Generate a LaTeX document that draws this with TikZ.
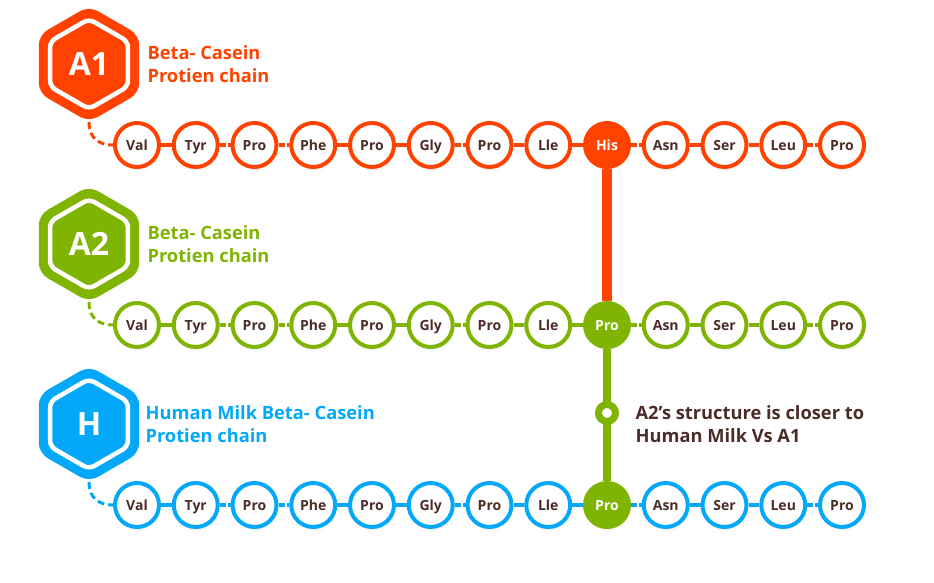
\documentclass[tikz,border=0pt]{standalone}
\usepackage{fontspec}
\setmainfont{Open Sans}
\usetikzlibrary{shapes.geometric,shadows}
\definecolor{aonered}{HTML}{FF4200}
\definecolor{atwogreen}{HTML}{7FB402}
\definecolor{humanblue}{HTML}{03A9F8}
\definecolor{darkbrown}{HTML}{4B2C26}

\begin{document}
\begin{tikzpicture}[x=1pt, y=-1pt,
  acid/.style={circle, draw=#1, line width=4pt, fill=white, minimum size=44pt, inner sep=0pt,
    text height=10pt, text depth=0pt,
    font=\bfseries\fontsize{14}{14}\selectfont, text=darkbrown,
    drop shadow={shadow xshift=1pt, shadow yshift=-4pt, opacity=0.07}},
  hit/.style={acid=#1, fill=#1, text=white},
  link/.style={draw=#1, line width=4pt},
  gaplink/.style={link=#1, dash pattern=on 6pt off 2pt on 20pt},
  hexout/.style={regular polygon, regular polygon sides=6, shape border rotate=30, fill=#1,
    minimum size=116pt, inner sep=0pt, outer sep=0pt, rounded corners=10pt},
  hexin/.style={regular polygon, regular polygon sides=6, shape border rotate=30, fill=#1,
    draw=white, line width=4.5pt, minimum size=90pt, inner sep=0pt, rounded corners=6pt,
    text=white, text height=22.5pt, text depth=0pt, font=\bfseries\fontsize{32}{32}\selectfont},
  title/.style={anchor=west, align=left, text=#1, font=\bfseries\fontsize{18.3}{23}\selectfont}]

  \useasboundingbox (0,0) rectangle (934,582);

  % A1 chain
  \node[hexout=aonered] (hone) at (89,64) {};
  \node[hexin=aonered] (honein) at (89,64) {A1};
  \node[title=aonered] (tone) at (144,64) {Beta- Casein\\Protien chain};
  \foreach \n [count=\i] in {Val,Tyr,Pro,Phe,Pro,Gly,Pro,Lle,His,Asn,Ser,Leu,Pro} {
    \ifnum\i=9\relax\else
      \node[acid=aonered] (aone-\i) at ({137+58.75*(\i-1)},145) {\n};
    \fi
  }
  \node[hit=aonered] (aone-9) at ({137+58.75*8},145) {His};

  % A2 chain
  \node[hexout=atwogreen] (htwo) at (89,244) {};
  \node[hexin=atwogreen] (htwoin) at (89,244) {A2};
  \node[title=atwogreen] (ttwo) at (144,244) {Beta- Casein\\Protien chain};
  \foreach \n [count=\i] in {Val,Tyr,Pro,Phe,Pro,Gly,Pro,Lle,Pro,Asn,Ser,Leu,Pro} {
    \ifnum\i=9\relax\else
      \node[acid=atwogreen] (atwo-\i) at ({137+58.75*(\i-1)},325) {\n};
    \fi
  }
  \node[hit=atwogreen] (atwo-9) at ({137+58.75*8},325) {Pro};

  % Human milk chain
  \node[hexout=humanblue] (hhmn) at (89,424) {};
  \node[hexin=humanblue] (hhmnin) at (89,424) {H};
  \node[title=humanblue] (thmn) at (142,424) {Human Milk Beta- Casein\\Protien chain};
  \foreach \n [count=\i] in {Val,Tyr,Pro,Phe,Pro,Gly,Pro,Lle,Pro,Asn,Ser,Leu,Pro} {
    \ifnum\i=9\relax\else
      \node[acid=humanblue] (hmn-\i) at ({137+58.75*(\i-1)},505) {\n};
    \fi
  }
  \node[hit=atwogreen] (hmn-9) at ({137+58.75*8},505) {Pro};

  % links along the chains
  \foreach \row/\col in {aone/aonered, atwo/atwogreen, hmn/humanblue} {
    \foreach \i [evaluate=\i as \j using int(\i+1)] in {1,4,5,7,8,10,11}
      \draw[link=\col] (\row-\i) -- (\row-\j);
    \foreach \i [evaluate=\i as \j using int(\i+1)] in {2,3,6,9,12}
      \draw[gaplink=\col] (\row-\i) -- (\row-\j);
  }
  \draw[link=aonered, dash pattern=on 7pt off 4pt, line width=3pt] (hone.south) .. controls +(0,18) and +(-12,0) .. (aone-1.west);
  \draw[link=atwogreen, dash pattern=on 7pt off 4pt, line width=3pt] (htwo.south) .. controls +(0,18) and +(-12,0) .. (atwo-1.west);
  \draw[link=humanblue, dash pattern=on 7pt off 4pt, line width=3pt] (hhmn.south) .. controls +(0,18) and +(-12,0) .. (hmn-1.west);

  % the swap
  \draw[aonered, line width=10pt] (aone-9) -- (atwo-9);
  \draw[atwogreen, line width=8pt] (atwo-9) -- (hmn-9);
  \node[circle, draw=atwogreen, fill=white, line width=7pt, minimum size=17pt, inner sep=0pt] (ring) at ({137+58.75*8},413) {};
  \node[anchor=west, align=left, text=darkbrown, font=\bfseries\fontsize{18.3}{23}\selectfont] (note) at (632,424) {A2’s structure is closer to\\Human Milk Vs A1};
\end{tikzpicture}
\end{document}
